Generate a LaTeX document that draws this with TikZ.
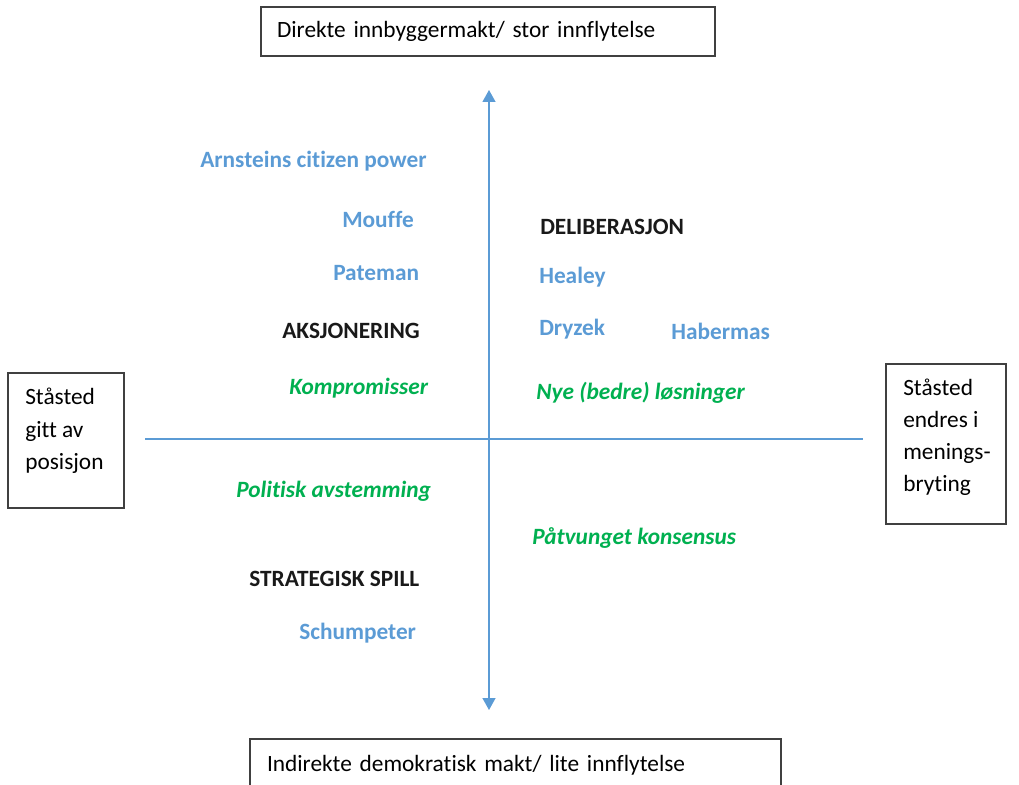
\documentclass[tikz,border=0pt]{standalone}
\usepackage{fontspec}
\setmainfont{Carlito}[Ligatures={NoCommon,NoDiscretionary,NoContextual}]
\usetikzlibrary{arrows.meta}
\definecolor{blaa}{HTML}{5B9BD5}
\definecolor{groenn}{HTML}{00B050}
\newcommand\tekst{\fontsize{17.5}{24.4}\selectfont}
\begin{document}
\begin{tikzpicture}[x=0.75pt,y=-0.75pt,font=\tekst,
  ramme/.style={draw=black!75,line width=0.8pt},
  etikett/.style={anchor=west,inner sep=0pt,text height=1.3em,text depth=0.1em},
  teori/.style={etikett,text=blaa,font=\tekst\bfseries},
  modell/.style={etikett,text=black!90,font=\tekst\bfseries},
  utfall/.style={etikett,text=groenn,font=\tekst\bfseries\itshape}]
\useasboundingbox (0,0) rectangle (1019,784);
% Aksene
\coordinate (nede) at (489,710);
\coordinate (oppe) at (489,90);
\coordinate (vest) at (145,439);
\coordinate (oest) at (863,439);
\draw[blaa,line width=1pt,{Triangle[width=9.75pt,length=9pt]}-{Triangle[width=9.75pt,length=9pt]}] (nede) -- (oppe);
\draw[blaa,line width=1pt] (vest) -- (oest);
% Boksene
\node (topp) [ramme,text width=316.5pt,inner xsep=12pt,minimum height=36.75pt,text height=1.05em,text depth=0.15em,align=left] at (488,31.5) {Direkte innbyggermakt/ stor innflytelse};
\node (bunn) [ramme,text width=372.75pt,inner xsep=12.75pt,minimum height=39pt,text height=1.05em,text depth=0.15em,align=left] at (515.5,765) {Indirekte demokratisk makt/ lite innflytelse};
\node (venstre) [ramme,minimum width=87pt,minimum height=101.25pt] at (66,440.5) {};
\node (venstretekst) [anchor=north west,inner sep=0pt,align=left] at (25,388) {Ståsted\\gitt av\\posisjon};
\node (hoeyre) [ramme,minimum width=90pt,minimum height=120pt] at (946,444) {};
\node (hoeyretekst) [anchor=north west,inner sep=0pt,align=left,font=\fontsize{17.5}{23.8}\selectfont] at (903,379) {Ståsted\\endres i\\menings-\\bryting};
% Teoretikere og modeller
\node (arnstein) [teori] at (200,160) {Arnsteins citizen power};
\node (mouffe) [teori] at (342,220) {Mouffe};
\node (pateman) [teori] at (333,272) {Pateman};
\node (aksjon) [modell] at (282,330) {AKSJONERING};
\node (kompromiss) [utfall] at (289,386) {Kompromisser};
\node (delib) [modell] at (540,226) {DELIBERASJON};
\node (healey) [teori] at (539,275) {Healey};
\node (dryzek) [teori] at (539,327) {Dryzek};
\node (habermas) [teori] at (671,331) {Habermas};
\node (nye) [utfall] at (536,391) {Nye (bedre) løsninger};
\node (avstemming) [utfall] at (236,489) {Politisk avstemming};
\node (konsensus) [utfall] at (532,536) {Påtvunget konsensus};
\node (strategi) [modell] at (249,578) {STRATEGISK SPILL};
\node (schumpeter) [teori] at (299,631) {Schumpeter};
\end{tikzpicture}
\end{document}
